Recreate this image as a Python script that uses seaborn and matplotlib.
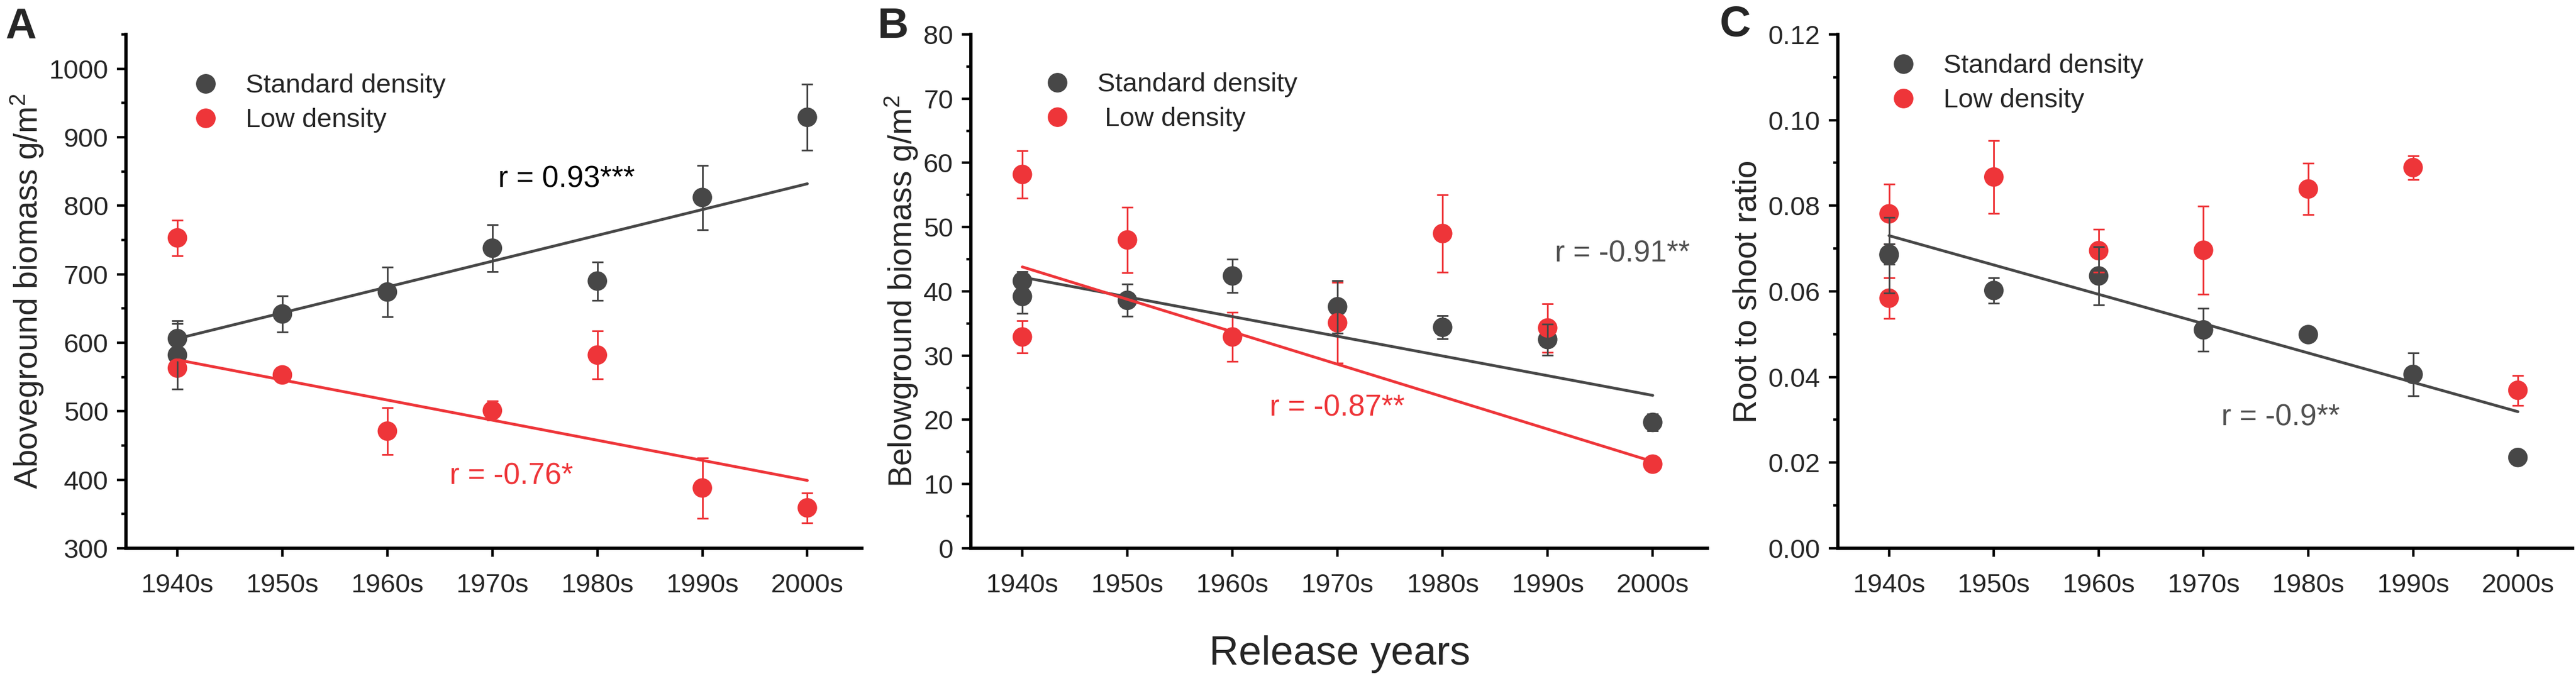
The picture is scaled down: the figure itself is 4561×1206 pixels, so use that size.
import matplotlib
matplotlib.use('Agg')
import matplotlib.pyplot as plt
import seaborn as sns
import pandas as pd
from matplotlib.ticker import MultipleLocator, FormatStrFormatter
from matplotlib.lines import Line2D

# ---- data ----
decades = ['1940s', '1950s', '1960s', '1970s', '1980s', '1990s', '2000s']
# the 1940s group holds two cultivars, so it appears twice
pt_decades = ['1940s', '1940s', '1950s', '1960s', '1970s', '1980s', '1990s', '2000s']

above_std = [606, 582, 642, 674, 738, 690, 812, 929]
above_std_err = [22, 50, 26, 36, 34, 28, 47, 48]
above_low = [753, 563, 553, 471, 501, 582, 388, 359]
above_low_err = [26, 8, 6, 34, 14, 35, 44, 22]

below_std = [41.6, 39.2, 38.6, 42.4, 37.6, 34.4, 32.5, 19.6]
below_std_err = [1.5, 2.6, 2.5, 2.6, 4.1, 1.8, 2.4, 1.3]
below_low = [58.2, 32.9, 48.0, 32.9, 35.1, 49.0, 34.3, 13.1]
below_low_err = [3.7, 2.5, 5.1, 3.8, 6.3, 6.0, 3.8, 0.5]

ratio_std = [0.0687, 0.0684, 0.0602, 0.0636, 0.0510, 0.0499, 0.0406, 0.0212]
ratio_std_err = [0.0024, 0.0088, 0.0030, 0.0068, 0.0050, 0.0005, 0.0050, 0.0010]
ratio_low = [0.0781, 0.0584, 0.0867, 0.0695, 0.0696, 0.0839, 0.0889, 0.0369]
ratio_low_err = [0.0070, 0.0048, 0.0085, 0.0050, 0.0103, 0.0060, 0.0028, 0.0035]

# fitted trend values at 1940s and 2000s
fit_ends = ['1940s', '2000s']
above_std_fit = [606, 832]
above_low_fit = [575, 399]
below_std_fit = [42.2, 23.8]
below_low_fit = [43.8, 13.5]
ratio_std_fit = [0.0730, 0.0319]

series_names = ['Standard density', 'Low density']

# ---- style ----
GRAY = '#474747'
RED = '#ee3539'
sns.set_theme(style='ticks')
plt.rcParams['font.family'] = ['Liberation Sans', 'DejaVu Sans']
plt.rcParams['mathtext.fontset'] = 'custom'
plt.rcParams['mathtext.rm'] = 'Liberation Sans'
plt.rcParams['mathtext.default'] = 'regular'

TICK_FS = 34
LABEL_FS = 41


def to_pos(labels):
    return [decades.index(d) for d in labels]


def draw_panel(ax, std, std_err, low, low_err, std_fit, low_fit):
    df = pd.DataFrame({
        'pos': to_pos(pt_decades) * 2,
        'value': std + low,
        'err': std_err + low_err,
        'density': [series_names[0]] * len(std) + [series_names[1]] * len(low),
    })
    pal = {series_names[0]: GRAY, series_names[1]: RED}
    sns.scatterplot(data=df, x='pos', y='value', hue='density', palette=pal,
                    s=620, edgecolor='none', legend=False, ax=ax, zorder=3)
    for name, sub in df.groupby('density'):
        ax.errorbar(sub['pos'], sub['value'], yerr=sub['err'], fmt='none',
                    ecolor=pal[name], elinewidth=2.2, capsize=7, capthick=2.2,
                    zorder=4)
    if std_fit is not None:
        sns.lineplot(x=to_pos(fit_ends), y=std_fit, color=GRAY, lw=3.6,
                     ax=ax, zorder=5)
    if low_fit is not None:
        sns.lineplot(x=to_pos(fit_ends), y=low_fit, color=RED, lw=3.6,
                     ax=ax, zorder=5)

    ax.set_xlim(-0.49, 6.52)
    ax.set_xticks(range(len(decades)))
    ax.set_xticklabels(decades)
    ax.set_xlabel('')
    sns.despine(ax=ax)
    for sp in ['left', 'bottom']:
        ax.spines[sp].set_linewidth(4.2)
        ax.spines[sp].set_color('black')
    ax.tick_params(axis='both', which='major', labelsize=TICK_FS, width=3.2,
                   color='black', direction='out')
    ax.tick_params(axis='y', which='major', length=11.5, pad=11)
    ax.tick_params(axis='y', which='minor', length=5.5, width=3.2, color='black')
    ax.tick_params(axis='x', which='major', length=11, pad=21)


def add_legend(ax, x, y, pad_first=''):
    handles = [Line2D([], [], marker='o', ls='none', color=GRAY, markersize=24),
               Line2D([], [], marker='o', ls='none', color=RED, markersize=24)]
    ax.legend(handles, [series_names[0], pad_first + series_names[1]],
              loc='upper left', bbox_to_anchor=(x, y), frameon=False,
              fontsize=TICK_FS, handlelength=1.0, handletextpad=1.0,
              labelspacing=0.36, borderpad=0, borderaxespad=0)


fig = plt.figure(figsize=(45.61, 12.06), dpi=100)
bottom, height = 0.1949, 0.7546
axA = fig.add_axes([0.0489, bottom, 0.2857, height])
axB = fig.add_axes([0.3769, bottom, 0.2859, height])
axC = fig.add_axes([0.7134, bottom, 0.2852, height])

# A: aboveground biomass
draw_panel(axA, above_std, above_std_err, above_low, above_low_err,
           above_std_fit, above_low_fit)
axA.yaxis.set_major_locator(MultipleLocator(100))
axA.yaxis.set_minor_locator(MultipleLocator(50))
axA.set_yticks(range(300, 1001, 100))
axA.set_ylim(300, 1050)
axA.set_ylabel(r'Aboveground biomass g/m$^{2}$', fontsize=LABEL_FS, labelpad=4)
add_legend(axA, 0.09, 0.924)
axA.text(0.506, 0.718, 'r = 0.93***', transform=axA.transAxes, fontsize=38,
         color='black', va='center', ha='left')
axA.text(0.440, 0.140, 'r = -0.76*', transform=axA.transAxes, fontsize=38,
         color=RED, va='center', ha='left')

# B: belowground biomass
draw_panel(axB, below_std, below_std_err, below_low, below_low_err,
           below_std_fit, below_low_fit)
axB.set_ylim(0, 80)
axB.yaxis.set_major_locator(MultipleLocator(10))
axB.yaxis.set_minor_locator(MultipleLocator(5))
axB.set_ylabel(r'Belowground biomass g/m$^{2}$', fontsize=LABEL_FS, labelpad=4)
add_legend(axB, 0.099, 0.926, pad_first=' ')
axB.text(0.793, 0.573, 'r = -0.91**', transform=axB.transAxes, fontsize=38,
         color='#505050', va='center', ha='left')
axB.text(0.406, 0.273, 'r = -0.87**', transform=axB.transAxes, fontsize=38,
         color=RED, va='center', ha='left')

# C: root to shoot ratio
draw_panel(axC, ratio_std, ratio_std_err, ratio_low, ratio_low_err,
           ratio_std_fit, None)
axC.set_ylim(0, 0.12)
axC.yaxis.set_major_locator(MultipleLocator(0.02))
axC.yaxis.set_minor_locator(MultipleLocator(0.01))
axC.yaxis.set_major_formatter(FormatStrFormatter('%.2f'))
axC.set_ylabel('Root to shoot ratio', fontsize=LABEL_FS, labelpad=6)
add_legend(axC, 0.071, 0.962)
axC.text(0.522, 0.254, 'r = -0.9**', transform=axC.transAxes, fontsize=38,
         color='#505050', va='center', ha='left')

# panel letters and shared x label
fig.text(0.002, 0.9436, 'A', fontsize=55, fontweight='bold', va='baseline')
fig.text(1554 / 4561, 0.9445, 'B', fontsize=55, fontweight='bold', va='baseline')
fig.text(3045 / 4561, 0.947, 'C', fontsize=55, fontweight='bold', va='baseline')
fig.text(0.520, 0.024, 'Release years', fontsize=52, ha='center', va='baseline')

fig.savefig('out.png', dpi=100)
